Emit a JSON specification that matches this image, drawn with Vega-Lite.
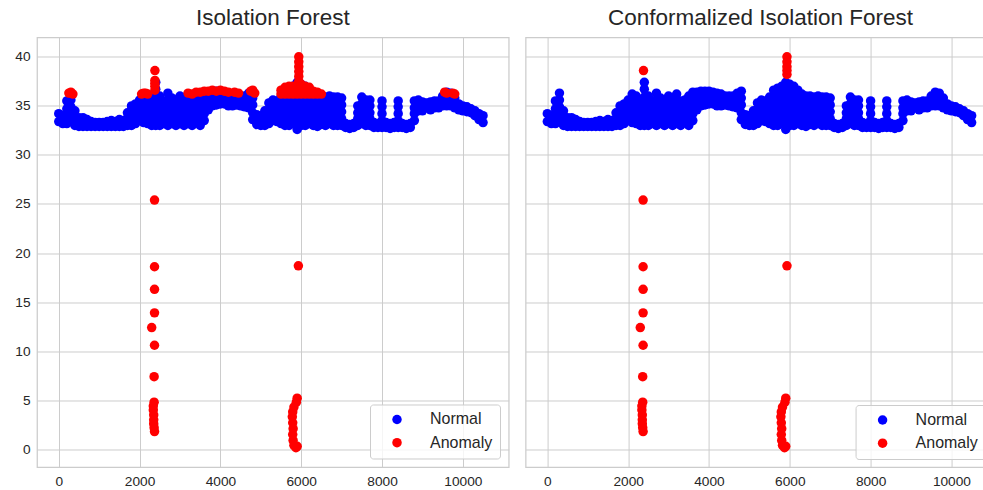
{
"$schema": "https://vega.github.io/schema/vega-lite/v6.json",
"background": "white",
"padding": {"left": 14, "top": 5.5, "right": 0, "bottom": 0},
"spacing": 14.6,
"config": {
  "font": "Liberation Sans",
  "view": {"stroke": "#cccccc", "strokeWidth": 1.25},
  "axis": {"grid": true, "gridColor": "#cccccc", "gridWidth": 1, "domain": false, "ticks": false, "labelFontSize": 13.7, "labelColor": "#262626", "labelPadding": 7, "title": null},
  "title": {"fontSize": 22.5, "fontWeight": "normal", "color": "#262626", "offset": 8, "baseline": "alphabetic", "frame": "group", "anchor": "middle"},
  "legend": {"orient": "bottom-right", "offset": 9, "fillColor": "rgba(255,255,255,0.8)", "strokeColor": "#cccccc", "cornerRadius": 3, "padding": 7, "labelFontSize": 16, "labelColor": "#262626", "symbolSize": 90, "symbolType": "circle", "symbolStrokeWidth": 0, "rowPadding": 7.2, "labelOffset": 25, "symbolOffset": 12, "title": null}
},
"datasets": {
"series": [
{"x":0,"y":33.4},{"x":0,"y":34.2},
{"x":100,"y":33.2},{"x":100,"y":34.0},
{"x":200,"y":33.2},{"x":200,"y":34.0},{"x":200,"y":34.7},{"x":200,"y":35.5},
{"x":300,"y":33.4},{"x":300,"y":34.1},{"x":300,"y":34.9},{"x":300,"y":35.6},{"x":300,"y":36.3},
{"x":400,"y":33.0},{"x":400,"y":33.8},{"x":400,"y":34.5},
{"x":500,"y":32.9},{"x":500,"y":33.4},{"x":500,"y":33.8},
{"x":600,"y":32.9},{"x":600,"y":33.4},{"x":600,"y":33.8},
{"x":700,"y":32.9},{"x":700,"y":33.6},
{"x":800,"y":32.9},{"x":800,"y":33.4},
{"x":900,"y":32.9},{"x":900,"y":33.3},
{"x":1000,"y":32.9},{"x":1000,"y":33.3},
{"x":1100,"y":32.9},{"x":1100,"y":33.3},
{"x":1200,"y":32.9},{"x":1200,"y":33.4},
{"x":1300,"y":32.9},{"x":1300,"y":33.5},
{"x":1400,"y":32.9},{"x":1400,"y":33.4},
{"x":1500,"y":32.9},{"x":1500,"y":33.6},
{"x":1600,"y":32.9},{"x":1600,"y":33.5},
{"x":1700,"y":33.0},{"x":1700,"y":33.7},{"x":1700,"y":34.3},
{"x":1800,"y":33.0},{"x":1800,"y":33.7},{"x":1800,"y":34.3},{"x":1800,"y":35.0},
{"x":1900,"y":33.2},{"x":1900,"y":33.9},{"x":1900,"y":34.5},{"x":1900,"y":35.2},
{"x":2000,"y":33.5},{"x":2000,"y":34.2},{"x":2000,"y":34.9},{"x":2000,"y":35.6},
{"x":2100,"y":33.3},{"x":2100,"y":34.0},{"x":2100,"y":34.8},{"x":2100,"y":35.5},{"x":2100,"y":36.2},
{"x":2200,"y":33.2},{"x":2200,"y":33.9},{"x":2200,"y":34.6},{"x":2200,"y":35.3},{"x":2200,"y":36.0},
{"x":2300,"y":33.0},{"x":2300,"y":33.6},{"x":2300,"y":34.3},{"x":2300,"y":34.9},{"x":2300,"y":35.5},
{"x":2400,"y":33.0},{"x":2400,"y":33.7},{"x":2400,"y":34.5},{"x":2400,"y":35.2},{"x":2400,"y":35.9},{"x":2400,"y":36.7},{"x":2400,"y":37.4},
{"x":2500,"y":33.0},{"x":2500,"y":33.8},{"x":2500,"y":34.5},{"x":2500,"y":35.3},{"x":2500,"y":36.0},
{"x":2600,"y":33.2},{"x":2600,"y":34.0},{"x":2600,"y":34.7},{"x":2600,"y":35.5},
{"x":2700,"y":33.0},{"x":2700,"y":33.7},{"x":2700,"y":34.3},{"x":2700,"y":35.0},{"x":2700,"y":35.6},{"x":2700,"y":36.3},
{"x":2800,"y":33.2},{"x":2800,"y":33.9},{"x":2800,"y":34.5},{"x":2800,"y":35.2},{"x":2800,"y":35.8},
{"x":2900,"y":33.0},{"x":2900,"y":33.7},{"x":2900,"y":34.3},{"x":2900,"y":35.0},{"x":2900,"y":35.6},
{"x":3000,"y":33.2},{"x":3000,"y":33.9},{"x":3000,"y":34.6},{"x":3000,"y":35.3},{"x":3000,"y":36.0},
{"x":3100,"y":33.0},{"x":3100,"y":33.7},{"x":3100,"y":34.4},{"x":3100,"y":35.1},{"x":3100,"y":35.8},
{"x":3200,"y":33.2},{"x":3200,"y":34.0},{"x":3200,"y":34.7},{"x":3200,"y":35.5},{"x":3200,"y":36.2},
{"x":3300,"y":33.0},{"x":3300,"y":33.6},{"x":3300,"y":34.3},{"x":3300,"y":34.9},{"x":3300,"y":35.5},
{"x":3400,"y":33.3},{"x":3400,"y":34.1},{"x":3400,"y":34.8},{"x":3400,"y":35.6},
{"x":3500,"y":33.0},{"x":3500,"y":33.8},{"x":3500,"y":34.5},{"x":3500,"y":35.3},{"x":3500,"y":36.0},
{"x":3600,"y":33.5},{"x":3600,"y":34.2},{"x":3600,"y":35.0},{"x":3600,"y":35.7},{"x":3600,"y":36.4},
{"x":3700,"y":34.6},{"x":3700,"y":35.2},{"x":3700,"y":35.8},{"x":3700,"y":36.4},
{"x":3800,"y":35.0},{"x":3800,"y":35.8},{"x":3800,"y":36.5},
{"x":3900,"y":35.1},{"x":3900,"y":35.8},{"x":3900,"y":36.5},
{"x":4000,"y":35.2},{"x":4000,"y":35.9},{"x":4000,"y":36.5},
{"x":4100,"y":35.2},{"x":4100,"y":35.8},{"x":4100,"y":36.4},
{"x":4200,"y":35.0},{"x":4200,"y":35.7},{"x":4200,"y":36.3},
{"x":4300,"y":35.0},{"x":4300,"y":35.6},{"x":4300,"y":36.2},
{"x":4400,"y":35.1},{"x":4400,"y":35.6},{"x":4400,"y":36.0},
{"x":4500,"y":35.0},{"x":4500,"y":35.5},{"x":4500,"y":36.0},
{"x":4600,"y":34.9},{"x":4600,"y":35.5},{"x":4600,"y":36.0},
{"x":4700,"y":34.8},{"x":4700,"y":35.6},{"x":4700,"y":36.3},
{"x":4800,"y":33.6},{"x":4800,"y":34.3},{"x":4800,"y":35.1},{"x":4800,"y":35.8},{"x":4800,"y":36.5},
{"x":4900,"y":33.1},{"x":4900,"y":33.6},{"x":4900,"y":34.1},
{"x":5000,"y":33.0},{"x":5000,"y":33.5},{"x":5000,"y":34.0},
{"x":5100,"y":33.0},{"x":5100,"y":33.8},{"x":5100,"y":34.5},
{"x":5200,"y":33.2},{"x":5200,"y":33.9},{"x":5200,"y":34.6},{"x":5200,"y":35.3},
{"x":5300,"y":33.5},{"x":5300,"y":34.2},{"x":5300,"y":34.9},{"x":5300,"y":35.6},
{"x":5400,"y":33.4},{"x":5400,"y":34.1},{"x":5400,"y":34.8},{"x":5400,"y":35.5},
{"x":5500,"y":33.2},{"x":5500,"y":33.9},{"x":5500,"y":34.6},{"x":5500,"y":35.2},{"x":5500,"y":35.9},
{"x":5600,"y":33.0},{"x":5600,"y":33.7},{"x":5600,"y":34.4},{"x":5600,"y":35.2},{"x":5600,"y":35.9},{"x":5600,"y":36.6},
{"x":5700,"y":33.0},{"x":5700,"y":33.8},{"x":5700,"y":34.5},{"x":5700,"y":35.3},{"x":5700,"y":36.0},{"x":5700,"y":36.8},
{"x":5800,"y":33.2},{"x":5800,"y":34.0},{"x":5800,"y":34.7},{"x":5800,"y":35.5},{"x":5800,"y":36.2},{"x":5800,"y":37.0},
{"x":5900,"y":32.6},{"x":5900,"y":33.4},{"x":5900,"y":34.2},{"x":5900,"y":35.0},{"x":5900,"y":35.8},{"x":5900,"y":36.6},{"x":5900,"y":37.4},
{"x":6000,"y":33.0},{"x":6000,"y":33.7},{"x":6000,"y":34.4},{"x":6000,"y":35.1},{"x":6000,"y":35.8},{"x":6000,"y":36.5},{"x":6000,"y":37.2},
{"x":6100,"y":33.0},{"x":6100,"y":33.8},{"x":6100,"y":34.6},{"x":6100,"y":35.4},{"x":6100,"y":36.2},{"x":6100,"y":37.0},
{"x":6200,"y":33.2},{"x":6200,"y":33.9},{"x":6200,"y":34.6},{"x":6200,"y":35.2},{"x":6200,"y":35.9},{"x":6200,"y":36.6},
{"x":6300,"y":33.0},{"x":6300,"y":33.8},{"x":6300,"y":34.6},{"x":6300,"y":35.4},{"x":6300,"y":36.2},
{"x":6400,"y":32.9},{"x":6400,"y":33.7},{"x":6400,"y":34.5},{"x":6400,"y":35.2},{"x":6400,"y":36.0},
{"x":6500,"y":33.1},{"x":6500,"y":33.8},{"x":6500,"y":34.6},{"x":6500,"y":35.3},{"x":6500,"y":36.0},
{"x":6600,"y":33.0},{"x":6600,"y":33.7},{"x":6600,"y":34.5},{"x":6600,"y":35.2},{"x":6600,"y":35.9},
{"x":6700,"y":33.2},{"x":6700,"y":33.9},{"x":6700,"y":34.6},{"x":6700,"y":35.3},{"x":6700,"y":36.0},
{"x":6800,"y":33.0},{"x":6800,"y":33.7},{"x":6800,"y":34.5},{"x":6800,"y":35.2},{"x":6800,"y":35.9},
{"x":6900,"y":33.0},{"x":6900,"y":33.7},{"x":6900,"y":34.5},{"x":6900,"y":35.2},{"x":6900,"y":35.9},
{"x":7000,"y":33.0},{"x":7000,"y":33.7},{"x":7000,"y":34.4},{"x":7000,"y":35.1},{"x":7000,"y":35.8},
{"x":7100,"y":32.8},{"x":7100,"y":33.2},
{"x":7200,"y":32.7},{"x":7200,"y":33.1},
{"x":7300,"y":32.8},{"x":7300,"y":33.2},
{"x":7400,"y":33.0},{"x":7400,"y":33.7},{"x":7400,"y":34.3},{"x":7400,"y":35.0},
{"x":7500,"y":33.2},{"x":7500,"y":33.9},{"x":7500,"y":34.6},{"x":7500,"y":35.2},{"x":7500,"y":35.9},
{"x":7600,"y":33.0},{"x":7600,"y":33.7},{"x":7600,"y":34.3},{"x":7600,"y":35.0},{"x":7600,"y":35.6},
{"x":7700,"y":33.0},{"x":7700,"y":33.7},{"x":7700,"y":34.3},{"x":7700,"y":35.0},{"x":7700,"y":35.6},
{"x":7800,"y":32.8},{"x":7800,"y":33.3},
{"x":7900,"y":32.8},{"x":7900,"y":33.2},
{"x":8000,"y":32.8},{"x":8000,"y":33.5},{"x":8000,"y":34.2},{"x":8000,"y":34.9},{"x":8000,"y":35.5},
{"x":8100,"y":32.8},{"x":8100,"y":33.3},
{"x":8200,"y":32.7},{"x":8200,"y":33.2},
{"x":8300,"y":32.8},{"x":8300,"y":33.3},
{"x":8400,"y":32.8},{"x":8400,"y":33.5},{"x":8400,"y":34.2},{"x":8400,"y":34.9},{"x":8400,"y":35.5},
{"x":8500,"y":32.8},{"x":8500,"y":33.2},
{"x":8600,"y":32.7},{"x":8600,"y":33.1},
{"x":8700,"y":32.8},{"x":8700,"y":33.2},
{"x":8800,"y":33.5},{"x":8800,"y":34.2},{"x":8800,"y":34.8},{"x":8800,"y":35.5},
{"x":8900,"y":34.5},{"x":8900,"y":35.1},{"x":8900,"y":35.6},
{"x":9000,"y":34.5},{"x":9000,"y":35.0},{"x":9000,"y":35.4},
{"x":9100,"y":34.8},{"x":9100,"y":35.3},
{"x":9200,"y":34.6},{"x":9200,"y":35.0},{"x":9200,"y":35.4},
{"x":9300,"y":34.8},{"x":9300,"y":35.5},
{"x":9400,"y":34.8},{"x":9400,"y":35.5},
{"x":9500,"y":35.0},{"x":9500,"y":35.5},{"x":9500,"y":36.0},
{"x":9600,"y":35.0},{"x":9600,"y":35.7},{"x":9600,"y":36.4},
{"x":9700,"y":35.0},{"x":9700,"y":35.7},{"x":9700,"y":36.3},
{"x":9800,"y":34.8},{"x":9800,"y":35.3},{"x":9800,"y":35.8},
{"x":9900,"y":34.6},{"x":9900,"y":35.2},
{"x":10000,"y":34.5},{"x":10000,"y":35.0},
{"x":10100,"y":34.4},{"x":10100,"y":34.9},
{"x":10200,"y":34.3},{"x":10200,"y":34.7},
{"x":10300,"y":34.0},{"x":10300,"y":34.5},
{"x":10400,"y":33.6},{"x":10400,"y":34.2},
{"x":10500,"y":33.3},{"x":10500,"y":34.0}
],
"if_anomaly": [
{"x":250,"y":36.3},{"x":300,"y":36.4},{"x":350,"y":36.2},
{"x":2050,"y":36.2},{"x":2100,"y":36.3},{"x":2150,"y":36.3},{"x":2200,"y":36.2},
{"x":2380,"y":36.6},{"x":2380,"y":37.0},{"x":2380,"y":37.3},{"x":2380,"y":37.6},{"x":2380,"y":38.6},
{"x":3200,"y":36.3},{"x":3300,"y":36.2},{"x":3400,"y":36.4},{"x":3500,"y":36.4},{"x":3600,"y":36.5},{"x":3700,"y":36.5},{"x":3800,"y":36.6},{"x":3900,"y":36.5},{"x":4000,"y":36.6},{"x":4100,"y":36.5},{"x":4200,"y":36.4},{"x":4350,"y":36.4},{"x":4450,"y":36.3},{"x":4750,"y":36.5},{"x":4800,"y":36.6},{"x":4850,"y":36.3},
{"x":5500,"y":36.2},{"x":5500,"y":36.6},
{"x":5600,"y":36.2},{"x":5600,"y":36.6},{"x":5600,"y":36.9},
{"x":5700,"y":36.2},{"x":5700,"y":36.6},{"x":5700,"y":37.0},
{"x":5800,"y":36.2},{"x":5800,"y":36.6},{"x":5800,"y":37.0},
{"x":5900,"y":36.2},{"x":5900,"y":36.6},{"x":5900,"y":37.0},
{"x":6000,"y":36.2},{"x":6000,"y":36.6},{"x":6000,"y":37.2},
{"x":6100,"y":36.2},{"x":6100,"y":36.6},{"x":6100,"y":37.0},
{"x":6200,"y":36.2},{"x":6200,"y":36.6},{"x":6200,"y":36.9},
{"x":6300,"y":36.2},{"x":6300,"y":36.5},
{"x":6400,"y":36.2},{"x":6400,"y":36.4},
{"x":6500,"y":36.2},
{"x":5940,"y":37.5},{"x":5940,"y":38.0},{"x":5940,"y":38.5},{"x":5940,"y":39.0},{"x":5940,"y":39.5},{"x":5940,"y":40.0},
{"x":9550,"y":36.4},{"x":9600,"y":36.3},{"x":9750,"y":36.3},{"x":9800,"y":36.2},
{"x":2370,"y":25.4},{"x":2370,"y":18.6},{"x":2370,"y":16.3},{"x":2370,"y":13.9},{"x":2300,"y":12.4},{"x":2370,"y":10.6},{"x":2360,"y":7.4},
{"x":2360,"y":4.8},{"x":2340,"y":4.4},{"x":2340,"y":4.0},{"x":2350,"y":3.5},{"x":2350,"y":3.0},{"x":2350,"y":2.6},{"x":2360,"y":2.2},{"x":2370,"y":1.8},
{"x":5900,"y":5.2},{"x":5880,"y":4.8},{"x":5820,"y":4.3},{"x":5790,"y":3.8},{"x":5780,"y":3.3},{"x":5790,"y":2.7},{"x":5800,"y":2.1},{"x":5790,"y":1.5},{"x":5800,"y":0.9},{"x":5820,"y":0.4},{"x":5870,"y":0.15},{"x":5900,"y":0.3},
{"x":5930,"y":18.7}
],
"cif_anomaly": [
{"x":2380,"y":38.6},
{"x":5930,"y":38.2},{"x":5930,"y":38.6},{"x":5930,"y":39.0},{"x":5930,"y":39.5},{"x":5930,"y":40.0},
{"x":2370,"y":25.4},{"x":2370,"y":18.6},{"x":2370,"y":16.3},{"x":2370,"y":13.9},{"x":2300,"y":12.4},{"x":2370,"y":10.6},{"x":2360,"y":7.4},
{"x":2360,"y":4.8},{"x":2340,"y":4.4},{"x":2340,"y":4.0},{"x":2350,"y":3.5},{"x":2350,"y":3.0},{"x":2350,"y":2.6},{"x":2360,"y":2.2},{"x":2370,"y":1.8},
{"x":5900,"y":5.2},{"x":5880,"y":4.8},{"x":5820,"y":4.3},{"x":5790,"y":3.8},{"x":5780,"y":3.3},{"x":5790,"y":2.7},{"x":5800,"y":2.1},{"x":5790,"y":1.5},{"x":5800,"y":0.9},{"x":5820,"y":0.4},{"x":5870,"y":0.15},{"x":5900,"y":0.3},
{"x":5930,"y":18.7}
]
},
"hconcat": [
{
  "width": 471.7, "height": 429.7,
  "title": "Isolation Forest",
  "layer": [
    {"data": {"name": "series"}, "mark": {"type": "point", "filled": true, "size": 90, "opacity": 1},
     "encoding": {
       "x": {"field": "x", "type": "quantitative", "scale": {"domain": [-538, 11135], "nice": false, "zero": false}, "axis": {"values": [0,2000,4000,6000,8000,10000], "format": "d"}},
       "y": {"field": "y", "type": "quantitative", "scale": {"domain": [-1.83, 41.97], "nice": false, "zero": false}, "axis": {"values": [0,5,10,15,20,25,30,35,40]}},
       "color": {"datum": "Normal", "type": "nominal", "scale": {"domain": ["Normal","Anomaly"], "range": ["#0000ff","#ff0000"]}, "legend": {"orient": "bottom-right", "offset": 9}}
     }},
    {"data": {"name": "if_anomaly"}, "mark": {"type": "point", "filled": true, "size": 90, "opacity": 1},
     "encoding": {
       "x": {"field": "x", "type": "quantitative"},
       "y": {"field": "y", "type": "quantitative"},
       "color": {"datum": "Anomaly", "type": "nominal"}
     }}
  ]
},
{
  "width": 458, "height": 429.7,
  "title": {"text": "Conformalized Isolation Forest", "dx": 6},
  "layer": [
    {"data": {"name": "series"}, "mark": {"type": "point", "filled": true, "size": 90, "opacity": 1},
     "encoding": {
       "x": {"field": "x", "type": "quantitative", "scale": {"domain": [-538, 10796], "nice": false, "zero": false}, "axis": {"values": [0,2000,4000,6000,8000,10000], "format": "d"}},
       "y": {"field": "y", "type": "quantitative", "scale": {"domain": [-1.83, 41.97], "nice": false, "zero": false}, "axis": {"values": [0,5,10,15,20,25,30,35,40], "labels": false}},
       "color": {"datum": "Normal", "type": "nominal", "scale": {"domain": ["Normal","Anomaly"], "range": ["#0000ff","#ff0000"]}, "legend": {"orient": "none", "legendX": 330, "legendY": 367.5}}
     }},
    {"data": {"name": "cif_anomaly"}, "mark": {"type": "point", "filled": true, "size": 90, "opacity": 1},
     "encoding": {
       "x": {"field": "x", "type": "quantitative"},
       "y": {"field": "y", "type": "quantitative"},
       "color": {"datum": "Anomaly", "type": "nominal"}
     }}
  ]
}
],
"resolve": {"scale": {"x": "independent", "y": "independent"}, "legend": {"color": "independent"}}
}
